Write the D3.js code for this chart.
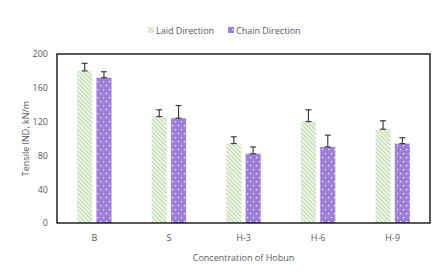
<!DOCTYPE html>
<html><head><meta charset="utf-8">
<script src="https://cdn.jsdelivr.net/npm/d3@7"></script>
<style>body{margin:0;background:#fff}text{font-family:"Open Sans","Liberation Sans",sans-serif}</style>
</head><body>
<script>
const categories = ["B","S","H-3","H-6","H-9"];
const seriesNames = ["Laid Direction","Chain Direction"];
const laidValues = [180,126,94,120,111];
const laidErrors = [9,8,8,14,10];
const chainValues = [172,124,82,90,94];
const chainErrors = [7,15,8,14,7];
const yTicks = [0,40,80,120,160,200];

const W=446,H=276;
const L=57,R=430,T=54,B=223;
const svg=d3.select("body").append("svg").attr("width",W).attr("height",H);
const defs=svg.append("defs");
const p1=defs.append("pattern").attr("id","laid").attr("patternUnits","userSpaceOnUse").attr("width",3).attr("height",3).attr("patternTransform","rotate(45)");
p1.append("rect").attr("width",3).attr("height",3).attr("fill","#ffffff");
p1.append("rect").attr("width",3).attr("height",1.5).attr("fill","#bcdaa8");
const p2=defs.append("pattern").attr("id","chain").attr("patternUnits","userSpaceOnUse").attr("width",6).attr("height",8);
p2.append("rect").attr("width",6).attr("height",8).attr("fill","#9d7fd8");
p2.append("rect").attr("x",1).attr("y",1).attr("width",1.2).attr("height",1.2).attr("fill","#fff");
p2.append("rect").attr("x",4).attr("y",5).attr("width",1.2).attr("height",1.2).attr("fill","#fff");

const x=d3.scaleBand().domain(categories).range([L,R]).paddingInner(0).paddingOuter(0);
const xs=d3.scaleBand().domain(seriesNames).range([0,x.bandwidth()]).paddingInner(0.22).paddingOuter(1.04);
const y=d3.scaleLinear().domain([0,200]).range([B,T]);

const data=[
  {name:seriesNames[0],vals:laidValues,errs:laidErrors,fill:"url(#laid)"},
  {name:seriesNames[1],vals:chainValues,errs:chainErrors,fill:"url(#chain)"}];
data.forEach(s=>{
  const g=svg.append("g");
  g.selectAll("rect").data(categories).join("rect")
    .attr("x",c=>x(c)+xs(s.name)).attr("width",xs.bandwidth())
    .attr("y",(c,i)=>y(s.vals[i])).attr("height",(c,i)=>B-y(s.vals[i]))
    .attr("fill",s.fill);
  const e=svg.append("g").attr("stroke","#404040").attr("stroke-width",1.2);
  categories.forEach((c,i)=>{
    const cx=x(c)+xs(s.name)+xs.bandwidth()/2;
    const y1=y(s.vals[i]+s.errs[i]);
    e.append("line").attr("x1",cx).attr("x2",cx).attr("y1",y(s.vals[i])).attr("y2",y1);
    e.append("line").attr("x1",cx-3).attr("x2",cx+3).attr("y1",y1).attr("y2",y1);
    e.append("line").attr("x1",cx-3).attr("x2",cx+3).attr("y1",y(s.vals[i])).attr("y2",y(s.vals[i]));
  });
});

svg.append("rect").attr("x",L).attr("y",T).attr("width",R-L).attr("height",B-T)
  .attr("fill","none").attr("stroke","#000").attr("stroke-width",1.3);

const ya=svg.append("g").attr("transform",`translate(${L},0)`)
  .call(d3.axisLeft(y).tickValues(yTicks).tickSize(0).tickPadding(9));
ya.select(".domain").remove();
ya.selectAll("text").attr("fill","#595959").style("font-size","9px").style("font-family","'Open Sans',sans-serif");

const xa=svg.append("g").attr("transform",`translate(0,${B})`)
  .call(d3.axisBottom(x).tickSize(0).tickPadding(12));
xa.select(".domain").remove();
xa.selectAll("text").attr("fill","#595959").style("font-size","9px").style("font-family","'Open Sans',sans-serif");

svg.append("text").attr("x",(L+R)/2).attr("y",261).attr("text-anchor","middle")
  .attr("fill","#595959").style("font-size","9px").text("Concentration of Hobun");
svg.append("text").attr("transform",`translate(29,${(T+B)/2}) rotate(-90)`).attr("text-anchor","middle")
  .attr("fill","#595959").style("font-size","9px").text("Tensile IND, kN/m");

const lg=svg.append("g");
const items=[{name:seriesNames[0],fill:"url(#laid)",x:148},{name:seriesNames[1],fill:"url(#chain)",x:228}];
items.forEach(it=>{
  lg.append("rect").attr("x",it.x).attr("y",27).attr("width",6).attr("height",6).attr("fill",it.fill);
  lg.append("text").attr("x",it.x+8).attr("y",33.5).attr("fill","#595959").style("font-size","9px").text(it.name);
});
</script>
</body></html>
